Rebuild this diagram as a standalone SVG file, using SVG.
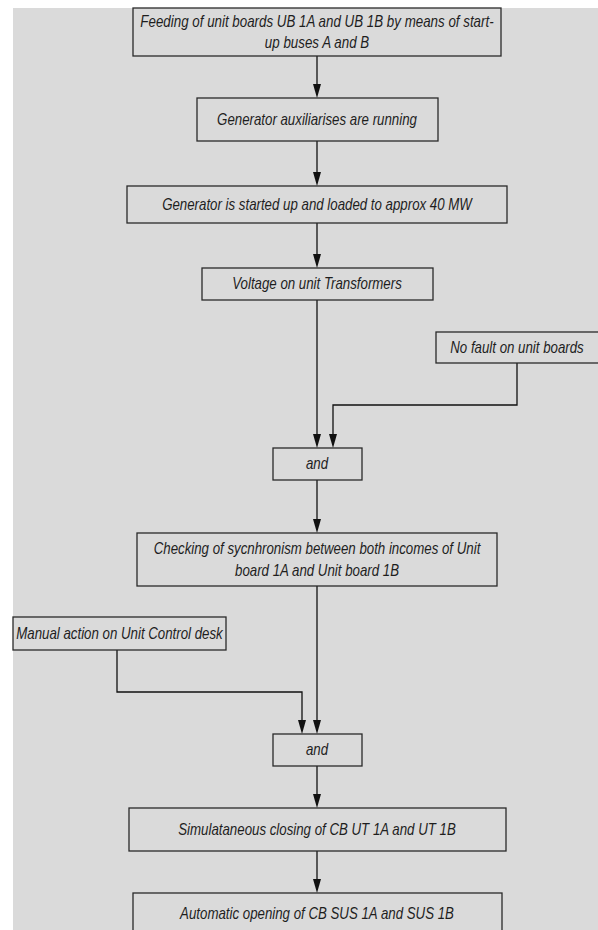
<svg xmlns="http://www.w3.org/2000/svg" width="598" height="930" viewBox="0 0 598 930">
<defs>
<style>
.box{fill:#dadada;stroke:#2a2a2a;stroke-width:1.3}
.t{font-family:"Liberation Sans",Arial,sans-serif;font-style:italic;font-size:16px;fill:#1e1e1e;text-anchor:middle}
.c{fill:none;stroke:#111;stroke-width:1.3}
.ah{fill:#111}
</style>
</defs>
<rect width="598" height="930" fill="#ffffff"/>
<rect x="13" y="8" width="585" height="922" fill="#dadada"/>
<g id="connectors">
<line class="c" x1="317" y1="56" x2="317" y2="90"/>
<path class="ah" d="M313,84 L321,84 L317,98 Z"/>
<line class="c" x1="317" y1="141" x2="317" y2="178"/>
<path class="ah" d="M313,172 L321,172 L317,186 Z"/>
<line class="c" x1="317" y1="223" x2="317" y2="260"/>
<path class="ah" d="M313,254 L321,254 L317,268 Z"/>
<line class="c" x1="317" y1="300" x2="317" y2="440"/>
<path class="ah" d="M313,434 L321,434 L317,448 Z"/>
<polyline class="c" points="517,363 517,405 333,405 333,440"/>
<path class="ah" d="M329,434 L337,434 L333,448 Z"/>
<line class="c" x1="317" y1="480" x2="317" y2="525"/>
<path class="ah" d="M313,519 L321,519 L317,533 Z"/>
<line class="c" x1="317" y1="586" x2="317" y2="726"/>
<path class="ah" d="M313,720 L321,720 L317,734 Z"/>
<polyline class="c" points="117,650 117,692 302,692 302,726"/>
<path class="ah" d="M298,720 L306,720 L302,734 Z"/>
<line class="c" x1="317" y1="766" x2="317" y2="800"/>
<path class="ah" d="M313,794 L321,794 L317,808 Z"/>
<line class="c" x1="317" y1="851" x2="317" y2="885"/>
<path class="ah" d="M313,879 L321,879 L317,893 Z"/>
</g>
<g id="n1">
<rect class="box" x="133" y="8" width="368" height="48"/>
<text class="t" transform="translate(317,27) scale(0.835,1)">Feeding of unit boards UB 1A and UB 1B by means of start-</text>
<text class="t" transform="translate(317,48) scale(0.835,1)">up buses A and B</text>
</g>
<g id="n2">
<rect class="box" x="197" y="98" width="241" height="43"/>
<text class="t" transform="translate(317,125) scale(0.83,1)">Generator auxiliarises are running</text>
</g>
<g id="n3">
<rect class="box" x="127" y="186" width="380" height="37"/>
<text class="t" transform="translate(317,210) scale(0.83,1)">Generator is started up and loaded to approx 40 MW</text>
</g>
<g id="n4">
<rect class="box" x="202" y="268" width="231" height="32"/>
<text class="t" transform="translate(317,289) scale(0.83,1)">Voltage on unit Transformers</text>
</g>
<g id="n5">
<rect class="box" x="436" y="332" width="164" height="31"/>
<text class="t" transform="translate(517,353) scale(0.83,1)">No fault on unit boards</text>
</g>
<g id="n6">
<rect class="box" x="273" y="448" width="89" height="32"/>
<text class="t" transform="translate(317,469) scale(0.83,1)">and</text>
</g>
<g id="n7">
<rect class="box" x="137" y="533" width="360" height="53"/>
<text class="t" transform="translate(317,554) scale(0.83,1)">Checking of sycnhronism between both incomes of Unit</text>
<text class="t" transform="translate(317,576) scale(0.83,1)">board 1A and Unit board 1B</text>
</g>
<g id="n8">
<rect class="box" x="13" y="617" width="213" height="33"/>
<text class="t" transform="translate(119.5,639) scale(0.83,1)">Manual action on Unit Control desk</text>
</g>
<g id="n9">
<rect class="box" x="273" y="734" width="89" height="32"/>
<text class="t" transform="translate(317,755) scale(0.83,1)">and</text>
</g>
<g id="n10">
<rect class="box" x="129" y="808" width="377" height="43"/>
<text class="t" transform="translate(317,835) scale(0.83,1)">Simulataneous closing of CB UT 1A and UT 1B</text>
</g>
<g id="n11">
<rect class="box" x="133" y="893" width="369" height="50"/>
<text class="t" transform="translate(317,919) scale(0.83,1)">Automatic opening of CB SUS 1A and SUS 1B</text>
</g>
</svg>
